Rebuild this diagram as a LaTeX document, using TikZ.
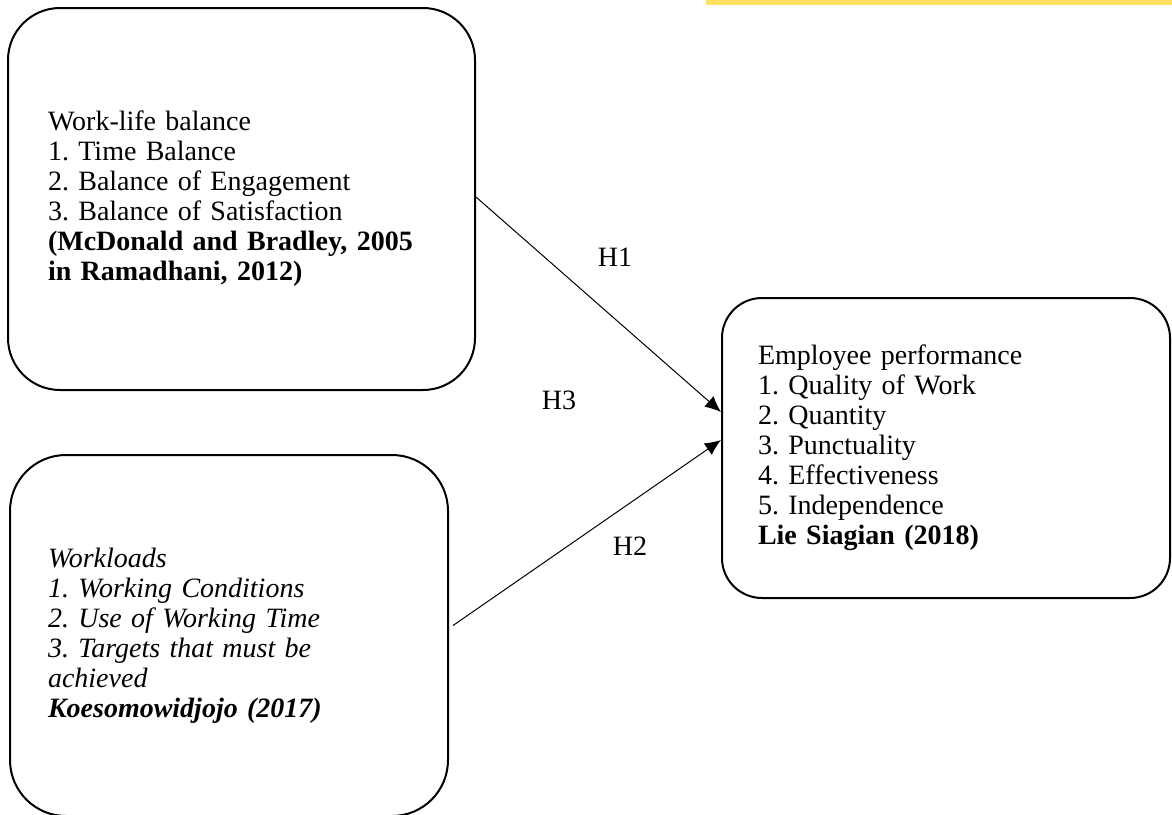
\documentclass[tikz,border=0pt]{standalone}
\usepackage{fontspec}
\setmainfont{Liberation Serif}
\usetikzlibrary{arrows.meta,positioning}
\definecolor{barYellow}{RGB}{255,223,94}
\tikzset{varbox/.style={rectangle,draw=black,line width=1pt,align=left,inner ysep=0pt,font=\fontsize{14}{15}\selectfont\frenchspacing}}
\tikzset{hyplabel/.style={font=\fontsize{14}{15}\selectfont}}
\tikzset{hypArrow/.style={-{Latex[length=8pt,width=7pt]},line width=0.5pt}}

\begin{document}
\begin{tikzpicture}[x=0.5pt,y=-0.5pt]
\useasboundingbox (0,0) rectangle (1172,814);
\fill [barYellow] (706,0) rectangle (1172,5);
% variables
	\node (wlb) [varbox, rounded corners=26pt, inner xsep=20pt, text width=193.5pt, minimum height=191pt] at (241.5,199)
	{Work-life balance\\1. Time Balance\\2. Balance of Engagement\\3. Balance of Satisfaction\\
	\textbf{(McDonald and Bradley, 2005}\\\textbf{in Ramadhani, 2012)}} ;
	\node (wkl) [varbox, rounded corners=28pt, inner xsep=19pt, text width=181pt, minimum height=180.5pt] at (229,635.5)
	{\itshape Workloads\\1. Working Conditions\\2. Use of Working Time\\3. Targets that must be\\achieved\\
	\textbf{Koesomowidjojo (2017)}} ;
	\node (emp) [varbox, rounded corners=20pt, inner xsep=18pt, text width=188pt, minimum height=150pt] at (946,448)
	{Employee performance\\1. Quality of Work\\2. Quantity\\3. Punctuality\\4. Effectiveness\\5. Independence\\
	\textbf{Lie Siagian (2018)}} ;
% hypotheses
	\draw [hypArrow] ([yshift=1pt]wlb.east) -- ([yshift=18pt]emp.west);
	\draw [hypArrow] ([shift={(2pt,5pt)}]wkl.east) -- ([yshift=4pt]emp.west);
	\node (h1) [hyplabel] at (615,257) {H1} ;
	\node (h3) [hyplabel] at (559,400) {H3} ;
	\node (h2) [hyplabel] at (630,546) {H2} ;
\end{tikzpicture}
\end{document}
